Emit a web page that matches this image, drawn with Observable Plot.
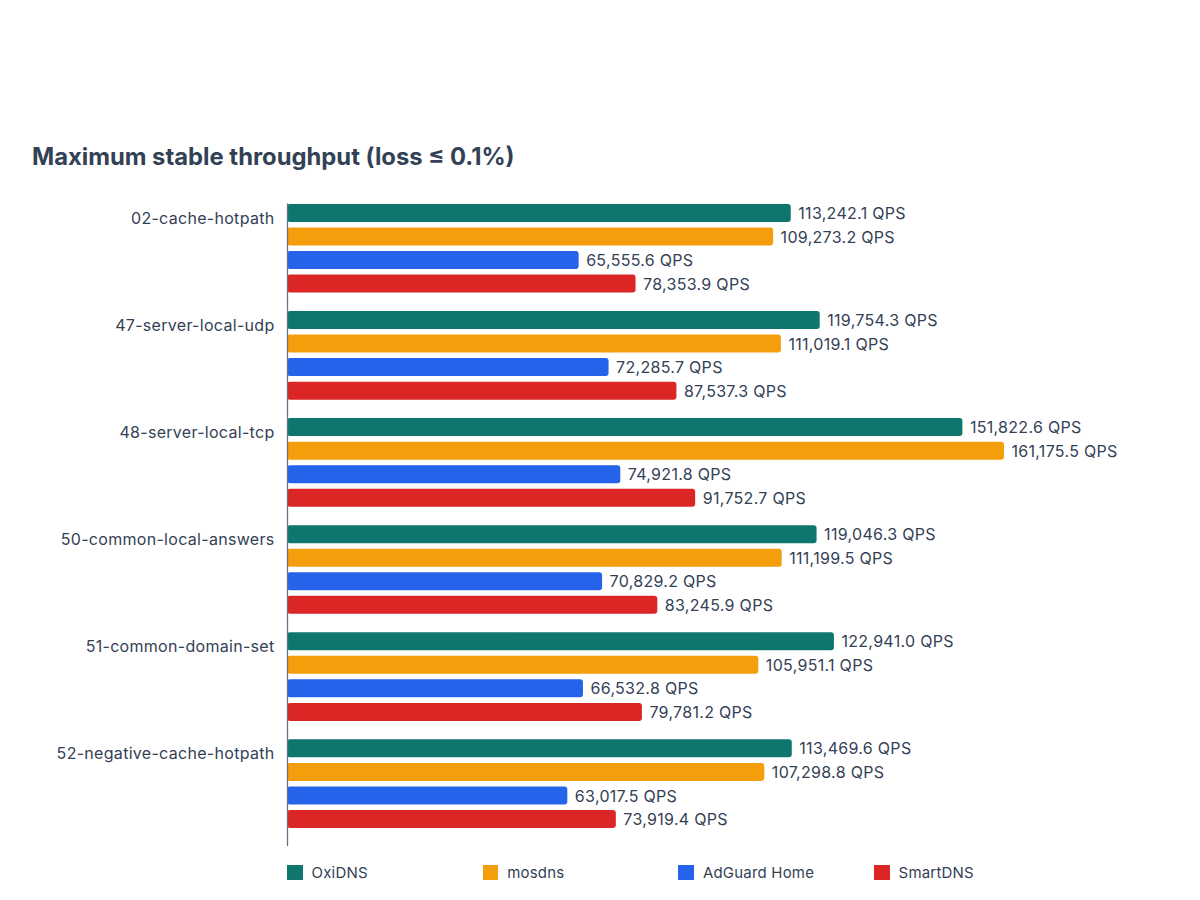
<!DOCTYPE html>
<html>
<head>
<meta charset="utf-8">
<script src="https://cdn.jsdelivr.net/npm/d3@7"></script>
<script src="https://cdn.jsdelivr.net/npm/@observablehq/plot@0.6"></script>
<style>
  html, body { margin: 0; padding: 0; background: #fff; }
  body { width: 1200px; height: 900px; position: relative; font-family: Inter, "Noto Sans", sans-serif; color: #334155; }
  #title { position: absolute; left: 32px; top: 142px; font-size: 23.8px; font-weight: 700; color: #334155; white-space: nowrap; }
  #chart { position: absolute; left: 0; top: 180px; }
  #legend { position: absolute; left: 287px; top: 865px; display: flex; font-size: 15px; letter-spacing: 0.2px; color: #334155; }
  #legend .item { width: 195.7px; height: 15px; display: flex; align-items: center; }
  #legend .sw { width: 15.5px; height: 15px; margin-right: 9px; flex: none; }
  #legend .lab { position: relative; top: -0.5px; }
</style>
</head>
<body>
<div id="title">Maximum stable throughput (loss ≤ 0.1%)</div>
<div id="chart"></div>
<div id="legend"></div>
<script>
const groups = ["02-cache-hotpath", "47-server-local-udp", "48-server-local-tcp", "50-common-local-answers", "51-common-domain-set", "52-negative-cache-hotpath"];
const engines = ["OxiDNS", "mosdns", "AdGuard Home", "SmartDNS"];
const colors = ["#0f766e", "#f59e0b", "#2563eb", "#dc2626"];
const oxidns = [113242.1, 119754.3, 151822.6, 119046.3, 122941.0, 113469.6];
const mosdns = [109273.2, 111019.1, 161175.5, 111199.5, 105951.1, 107298.8];
const adguard = [65555.6, 72285.7, 74921.8, 70829.2, 66532.8, 63017.5];
const smartdns = [78353.9, 87537.3, 91752.7, 83245.9, 79781.2, 73919.4];

const series = [oxidns, mosdns, adguard, smartdns];
const rows = [];
groups.forEach((g, i) => engines.forEach((e, j) => rows.push({group: g, engine: e, qps: series[j][i]})));
const fmt = d3.format(",.1f");

const plot = Plot.plot({
  width: 1200,
  height: 672,
  marginTop: 23.5,
  marginBottom: 6,
  marginLeft: 287,
  marginRight: 196,
  style: {fontFamily: "Inter, 'Noto Sans', sans-serif", fontSize: "16px", letterSpacing: "0.3px", color: "#334155", background: "#fff"},
  x: {domain: [0, d3.max(rows, d => d.qps)], axis: null},
  y: {domain: engines, paddingInner: 0.2357, paddingOuter: 0.391, align: 0.022, round: false, axis: null},
  fy: {domain: groups, padding: 0, round: false, axis: null},
  color: {domain: engines, range: colors},
  marks: [
    Plot.barX(rows, {fy: "group", y: "engine", x: "qps", fill: "engine", rx: 3}),
    Plot.text(rows, {fy: "group", y: "engine", x: "qps", text: d => fmt(d.qps) + " QPS", textAnchor: "start", dx: 7, dy: 0.5, fill: "#334155", fontSize: 16}),
    Plot.text(groups, {fy: d => d, text: d => d, frameAnchor: "top-left", textAnchor: "end", lineAnchor: "middle", dx: -13, dy: 14.5, fill: "#334155", fontSize: 16}),
    Plot.ruleX([0], {stroke: "#64748b", strokeWidth: 1.3})
  ]
});
document.getElementById("chart").appendChild(plot);

const legend = document.getElementById("legend");
engines.forEach((e, j) => {
  const item = document.createElement("div");
  item.className = "item";
  const sw = document.createElement("span");
  sw.className = "sw";
  sw.style.background = colors[j];
  const lab = document.createElement("span");
  lab.className = "lab";
  lab.textContent = e;
  item.appendChild(sw);
  item.appendChild(lab);
  legend.appendChild(item);
});
</script>
</body>
</html>
